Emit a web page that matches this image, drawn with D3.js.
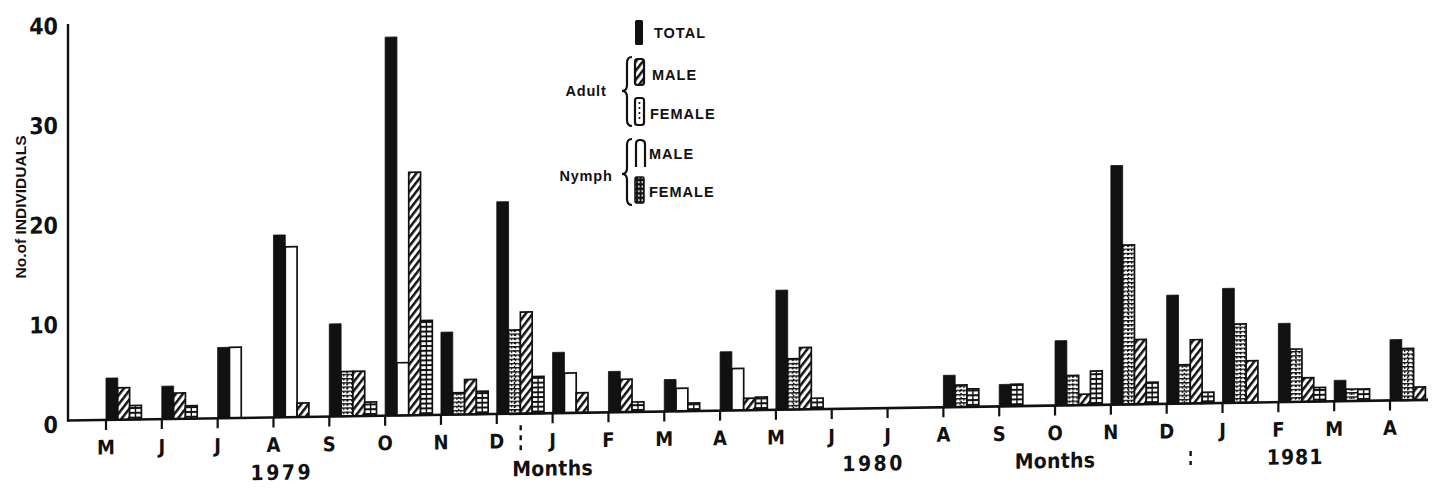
<!DOCTYPE html>
<html>
<head>
<meta charset="utf-8">
<script src="https://cdn.jsdelivr.net/npm/d3@7"></script>
<style>
  html, body { margin: 0; padding: 0; background: #fff; }
  svg { display: block; }
  text { font-family: "Liberation Sans Narrow", "DejaVu Sans Condensed", "Liberation Sans", sans-serif; font-weight: bold; fill: #111; }
  .wide { font-family: "Liberation Sans", "DejaVu Sans", sans-serif; }
</style>
</head>
<body>
<svg id="chart" width="1441" height="489"></svg>
<script>
// ---- data: monthly counts, May 1979 to April 1981 ----
const months = ["M","J","J","A","S","O","N","D","J","F","M","A",
                "M","J","J","A","S","O","N","D","J","F","M","A"];
const total       = [4.2, 3.3, 7.1, 18.3, 9.3, 38.0, 8.3, 21.3, 6.1, 4.1, 3.2, 5.9,
                     12.0, 0, 0, 3.2, 2.2, 6.5, 24.0, 10.9, 11.5, 7.9, 2.1, 6.1];
const nymphMale   = [0, 0, 7.1, 17.1, 0, 5.3, 0, 0, 4.0, 0, 2.3, 4.2,
                     0, 0, 0, 0, 0, 0, 0, 0, 0, 0, 0, 0];
const adultFemale = [0, 0, 0, 0, 4.5, 0, 2.2, 8.4, 0, 0, 0, 0,
                     5.1, 0, 0, 2.2, 0, 3.0, 16.0, 3.9, 7.9, 5.3, 1.2, 5.2];
const adultMale   = [3.2, 2.6, 0, 1.4, 4.5, 24.4, 3.5, 10.2, 2.0, 3.3, 0, 1.2,
                     6.2, 0, 0, 0, 0, 1.1, 6.5, 6.4, 4.2, 2.4, 0, 1.3];
const nymphFemale = [1.4, 1.3, 0, 0, 1.4, 9.5, 2.3, 3.7, 0, 1.0, 0.8, 1.3,
                     1.1, 0, 0, 1.8, 2.2, 3.4, 2.2, 1.1, 0, 1.4, 1.2, 0];
const yTicks = [0, 10, 20, 30, 40];
const yearLabels = ["1979", "1980", "1981"];
const xCaption = "Months";
const yCaption = "No.of INDIVIDUALS";
const legendTotal = "TOTAL";
const legendGroups = ["Adult", "Nymph"];
const legendSexes = ["MALE", "FEMALE"];

// ---- series drawing order inside each month group ----
const series = [
  { key: "total",       values: total },
  { key: "nymphMale",   values: nymphMale },
  { key: "adultFemale", values: adultFemale },
  { key: "adultMale",   values: adultMale },
  { key: "nymphFemale", values: nymphFemale }
];

const INK = "#111";
const svg = d3.select("#chart");
const defs = svg.append("defs");

// diagonal hatching (adult male)
const hatch = defs.append("pattern").attr("id", "hatch")
  .attr("patternUnits", "userSpaceOnUse").attr("width", 5.6).attr("height", 5.6)
  .attr("patternTransform", "rotate(38)");
hatch.append("rect").attr("width", 5.6).attr("height", 5.6).attr("fill", "#fff");
hatch.append("rect").attr("width", 2.5).attr("height", 5.6).attr("fill", INK);

// horizontal rungs (nymph female)
const ladder = defs.append("pattern").attr("id", "ladder")
  .attr("patternUnits", "userSpaceOnUse").attr("width", 4).attr("height", 4.8);
ladder.append("rect").attr("width", 4).attr("height", 4.8).attr("fill", "#fff");
ladder.append("rect").attr("width", 4).attr("height", 2).attr("fill", INK);

// fine dotted grid (adult female)
const grid = defs.append("pattern").attr("id", "grid")
  .attr("patternUnits", "userSpaceOnUse").attr("width", 3.9).attr("height", 4.2);
grid.append("rect").attr("width", 3.9).attr("height", 4.2).attr("fill", "#fff");
grid.append("rect").attr("width", 3.9).attr("height", 1.3).attr("fill", INK);
grid.append("rect").attr("width", 1.3).attr("height", 2.6).attr("fill", INK);

// white dots on black (legend, nymph female)
const dots = defs.append("pattern").attr("id", "dots")
  .attr("patternUnits", "userSpaceOnUse").attr("width", 3.5).attr("height", 4.5);
dots.append("rect").attr("width", 3.5).attr("height", 4.5).attr("fill", INK);
dots.append("rect").attr("x", 1).attr("y", 1.2).attr("width", 1.6).attr("height", 1.8).attr("fill", "#fff");

// ---- plotting frame: the drawn axis rises slightly to the right ----
const slant = -0.87;
const tanS = Math.tan(slant * Math.PI / 180);
const frame = svg.append("g")
  .attr("transform", `translate(0,${-70 * tanS}) skewY(${slant})`);

const y = d3.scaleLinear().domain([0, 40]).range([420.5, 22]);
const x = d3.scalePoint().domain(d3.range(months.length)).range([106, 1390]);
const inner = d3.scaleBand().domain(d3.range(series.length)).range([0, 59]);
const bw = inner.bandwidth();
const y0 = y(0);

// bars, packed left to right from each month's tick
const bars = [];
months.forEach((m, i) => {
  let slot = 0;
  series.forEach(s => {
    const v = s.values[i];
    if (v > 0) { bars.push({ i, slot, v, key: s.key }); slot++; }
  });
});

const fillOf = { total: INK, nymphMale: "#fff", adultFemale: "url(#grid)",
                 adultMale: "url(#hatch)", nymphFemale: "url(#ladder)" };

frame.append("g").selectAll("rect").data(bars).join("rect")
  .attr("x", d => x(d.i) + inner(d.slot))
  .attr("y", d => y(d.v))
  .attr("width", bw)
  .attr("height", d => y0 - y(d.v))
  .attr("fill", d => fillOf[d.key])
  .attr("stroke", INK)
  .attr("stroke-width", d => d.key === "total" ? 0.8 : 1.7);

// centre rules inside the patterned female bars
frame.append("g").selectAll("line")
  .data(bars.filter(d => d.key === "adultFemale" || d.key === "nymphFemale"))
  .join("line")
  .attr("x1", d => x(d.i) + inner(d.slot) + bw / 2)
  .attr("x2", d => x(d.i) + inner(d.slot) + bw / 2)
  .attr("y1", d => y(d.v))
  .attr("y2", y0)
  .attr("stroke", INK)
  .attr("stroke-width", 1.4)
  .attr("stroke-dasharray", d => d.key === "adultFemale" ? "2,2" : null);

// axes
frame.append("line").attr("x1", 68).attr("x2", 68).attr("y1", 24).attr("y2", y0 + 1)
  .attr("stroke", INK).attr("stroke-width", 2.4);
frame.append("line").attr("x1", 67).attr("x2", 1428).attr("y1", y0).attr("y2", y0)
  .attr("stroke", INK).attr("stroke-width", 2.6);

frame.append("g").selectAll("line").data(months).join("line")
  .attr("x1", (d, i) => x(i)).attr("x2", (d, i) => x(i))
  .attr("y1", y0).attr("y2", y0 + 10)
  .attr("stroke", INK).attr("stroke-width", 2.2);

frame.append("g").selectAll("text").data(months).join("text")
  .attr("x", (d, i) => x(i)).attr("y", 448)
  .attr("text-anchor", "middle").attr("dominant-baseline", "central")
  .attr("font-size", 20)
  .text(d => d);

frame.append("g").selectAll("text").data(yTicks).join("text")
  .attr("x", 58).attr("y", d => y(d) + 4)
  .attr("text-anchor", "end").attr("dominant-baseline", "central")
  .attr("font-size", 23)
  .text(d => d);

// year and caption row
const step = x.step();
const captionRow = [
  { t: yearLabels[0], cx: x(3) + 0.15 * step, ls: 2.5 },
  { t: xCaption,      cx: x(8),               ls: 0.3 },
  { t: yearLabels[1], cx: x(13) + 0.75 * step, ls: 2.5 },
  { t: xCaption,      cx: x(17),              ls: 0.3 },
  { t: yearLabels[2], cx: x(21) + 0.3 * step, ls: 1 }
];
frame.append("g").selectAll("text").data(captionRow).join("text")
  .attr("x", d => d.cx).attr("y", 476)
  .attr("text-anchor", "middle").attr("dominant-baseline", "central")
  .attr("font-size", 21)
  .attr("letter-spacing", d => d.ls)
  .text(d => d.t);

// dotted year dividers between December and January
[[7, 432, 460], [19, 468, 482]].forEach(([i, a, b]) => {
  const cx = (x(i) + x(i + 1)) / 2 - 4;
  frame.append("line").attr("x1", cx).attr("x2", cx).attr("y1", a).attr("y2", b)
    .attr("stroke", INK).attr("stroke-width", 2.4).attr("stroke-dasharray", "5,5");
});

// y caption
svg.append("text").attr("class", "wide")
  .attr("transform", "translate(20,207) rotate(-90)")
  .attr("text-anchor", "middle").attr("dominant-baseline", "central")
  .attr("font-size", 15.5)
  .text(yCaption);

// ---- legend ----
const lg = svg.append("g");
const sw = { x: 635, w: 8 };
lg.append("rect").attr("x", sw.x).attr("y", 20).attr("width", sw.w).attr("height", 25)
  .attr("rx", 1.5).attr("fill", INK);
lg.append("rect").attr("x", sw.x).attr("y", 59).attr("width", sw.w + 1).attr("height", 26)
  .attr("rx", 2.5).attr("fill", "url(#hatch)").attr("stroke", INK).attr("stroke-width", 2.2);
lg.append("rect").attr("x", sw.x).attr("y", 98).attr("width", sw.w + 1).attr("height", 27)
  .attr("rx", 2.5).attr("fill", "#fff").attr("stroke", INK).attr("stroke-width", 2.2);
lg.append("line").attr("x1", sw.x + 4.5).attr("x2", sw.x + 4.5).attr("y1", 102).attr("y2", 121)
  .attr("stroke", INK).attr("stroke-width", 1.6).attr("stroke-dasharray", "2,3");
lg.append("path")
  .attr("d", `M${sw.x + 1},167 L${sw.x + 1},144 Q${sw.x + 1},140 ${sw.x + 5},140 Q${sw.x + 10},140 ${sw.x + 10},144 L${sw.x + 10},167`)
  .attr("fill", "none").attr("stroke", INK).attr("stroke-width", 2.2);
lg.append("rect").attr("x", sw.x).attr("y", 177).attr("width", sw.w + 1).attr("height", 26)
  .attr("rx", 1.5).attr("fill", "url(#dots)").attr("stroke", INK).attr("stroke-width", 1.5);

const legendText = [
  { t: legendTotal,    x: 654, y: 33 },
  { t: legendSexes[0], x: 652, y: 75 },
  { t: legendSexes[1], x: 650, y: 114 },
  { t: legendSexes[0], x: 649, y: 154 },
  { t: legendSexes[1], x: 649, y: 192 }
];
lg.selectAll("text.item").data(legendText).join("text").attr("class", "item wide")
  .attr("x", d => d.x).attr("y", d => d.y)
  .attr("dominant-baseline", "central").attr("font-size", 14.5)
  .attr("letter-spacing", 1)
  .text(d => d.t);

lg.selectAll("text.grp").data([{ t: legendGroups[0], y: 91 }, { t: legendGroups[1], y: 176 }])
  .join("text").attr("class", "grp wide")
  .attr("x", 586).attr("y", d => d.y)
  .attr("text-anchor", "middle").attr("dominant-baseline", "central")
  .attr("font-size", 14.5).attr("letter-spacing", 0.8)
  .text(d => d.t);

// braces
function brace(xr, top, bottom, tip) {
  const xm = xr - 5, xt = xr - 10;
  return `M${xr},${top} Q${xm},${top} ${xm},${top + 6} L${xm},${tip - 6} Q${xm},${tip} ${xt},${tip}` +
         ` Q${xm},${tip} ${xm},${tip + 6} L${xm},${bottom - 6} Q${xm},${bottom} ${xr},${bottom}`;
}
lg.append("path").attr("d", brace(632, 57, 126, 91))
  .attr("fill", "none").attr("stroke", INK).attr("stroke-width", 2.2);
lg.append("path").attr("d", brace(632, 139, 205, 174))
  .attr("fill", "none").attr("stroke", INK).attr("stroke-width", 2.2);
</script>
</body>
</html>
